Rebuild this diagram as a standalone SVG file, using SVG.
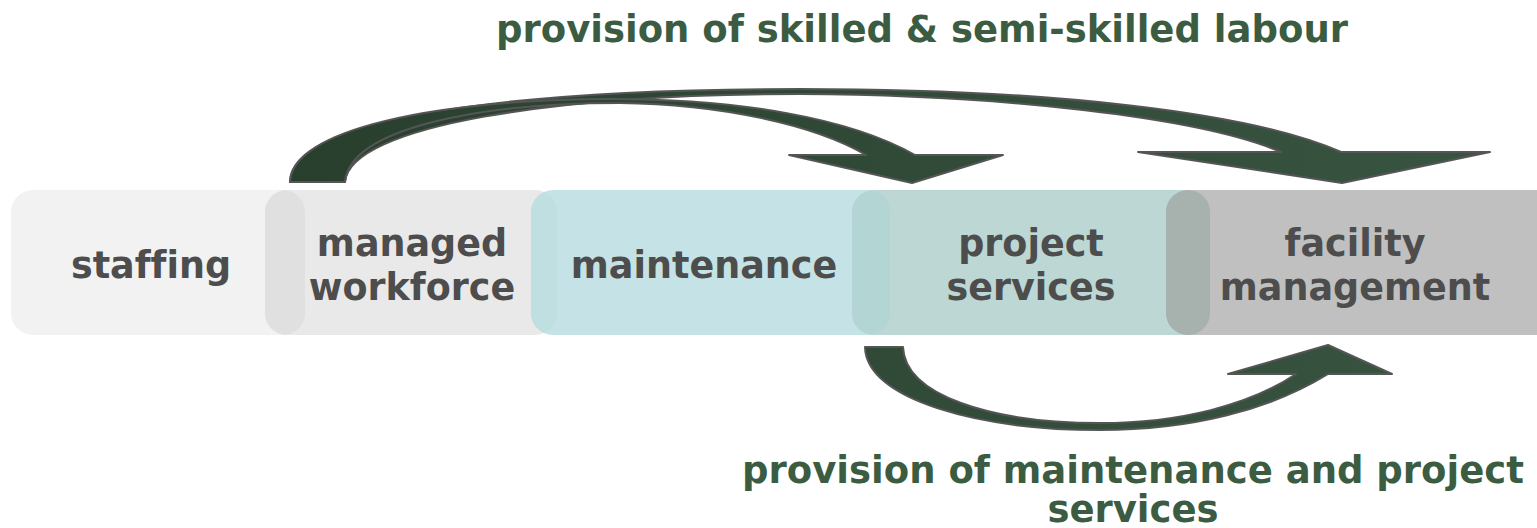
<svg xmlns="http://www.w3.org/2000/svg" width="1537" height="528" viewBox="0 0 1537 528">
<style>
.node-text{font-family:"DejaVu Sans",Verdana,sans-serif;font-weight:bold;font-size:36.5px;fill:#4d4d4d;text-anchor:middle;font-variant-ligatures:none}
.label{font-family:"DejaVu Sans",Verdana,sans-serif;font-weight:bold;font-size:37px;fill:#3c5c42;text-anchor:middle;font-variant-ligatures:none}
.arrow{stroke:#555555;stroke-width:2;stroke-linejoin:round}
</style>
<defs>
<linearGradient id="ag" gradientUnits="userSpaceOnUse" x1="290" y1="0" x2="1490" y2="0">
<stop offset="0" stop-color="#293f2e"/>
<stop offset="1" stop-color="#385541"/>
</linearGradient>
<clipPath id="c1"><rect x="11" y="190" width="294" height="145" rx="22"/></clipPath>
<clipPath id="c2"><rect x="265" y="190" width="292" height="145" rx="22"/></clipPath>
<clipPath id="c3"><rect x="531" y="190" width="359" height="145" rx="22"/></clipPath>
<clipPath id="c4"><rect x="852" y="190" width="358" height="145" rx="22"/></clipPath>
</defs>

<g id="staffing">
<rect x="11" y="190" width="294" height="145" rx="22" fill="#f2f2f2"/>
<text class="node-text" x="151" y="278">staffing</text>
</g>
<g id="managed-workforce">
<rect x="265" y="190" width="292" height="145" rx="22" fill="#e9e9e9"/>
<rect x="265" y="190" width="292" height="145" rx="22" fill="#e0e0e0" clip-path="url(#c1)"/>
<text class="node-text" x="412" y="256">managed</text>
<text class="node-text" x="412" y="300">workforce</text>
</g>
<g id="maintenance">
<rect x="531" y="190" width="359" height="145" rx="22" fill="#c5e3e6"/>
<rect x="531" y="190" width="359" height="145" rx="22" fill="#c0dfe1" clip-path="url(#c2)"/>
<text class="node-text" x="704" y="278">maintenance</text>
</g>
<g id="project-services">
<rect x="852" y="190" width="358" height="145" rx="22" fill="#bcd7d4"/>
<rect x="852" y="190" width="358" height="145" rx="22" fill="#b3d5d3" clip-path="url(#c3)"/>
<text class="node-text" x="1031" y="256">project</text>
<text class="node-text" x="1031" y="300">services</text>
</g>
<g id="facility-management">
<rect x="1166" y="190" width="393" height="145" rx="22" fill="#c0c0c0"/>
<rect x="1166" y="190" width="393" height="145" rx="22" fill="#a7b1ae" clip-path="url(#c4)"/>
<text class="node-text" x="1355" y="256">facility</text>
<text class="node-text" x="1355" y="300">management</text>
</g>

<g id="connectors">
<path class="arrow" fill="url(#ag)" d="M 290,182 C 290,120 500,89 800,89 C 1050,89 1250,112 1341,152 L 1490,152 L 1342,183 L 1138,152 L 1281,152 C 1200,117 1000,95 800,94 C 560,94 350,125 345,182 Z"/>
<path class="arrow" fill="url(#ag)" d="M 290,182 C 292,130 430,100 610,99 C 740,99 850,118 915,155 L 1003,155 L 912,183 L 789,155 L 866,155 C 815,125 720,104 620,103 C 480,103 350,128 345,182 Z"/>
<path class="arrow" fill="url(#ag)" d="M 865,347 C 866,400 980,430 1100,430 C 1190,430 1270,410 1328,374 L 1392,374 L 1328,345 L 1228,374 L 1296,374 C 1250,405 1180,423 1100,423 C 990,423 905,395 903,347 Z"/>
</g>

<g id="labels">
<text class="label" x="922" y="42">provision of skilled &amp; semi-skilled labour</text>
<text class="label" x="1133" y="483">provision of maintenance and project</text>
<text class="label" x="1133" y="522">services</text>
</g>
</svg>
